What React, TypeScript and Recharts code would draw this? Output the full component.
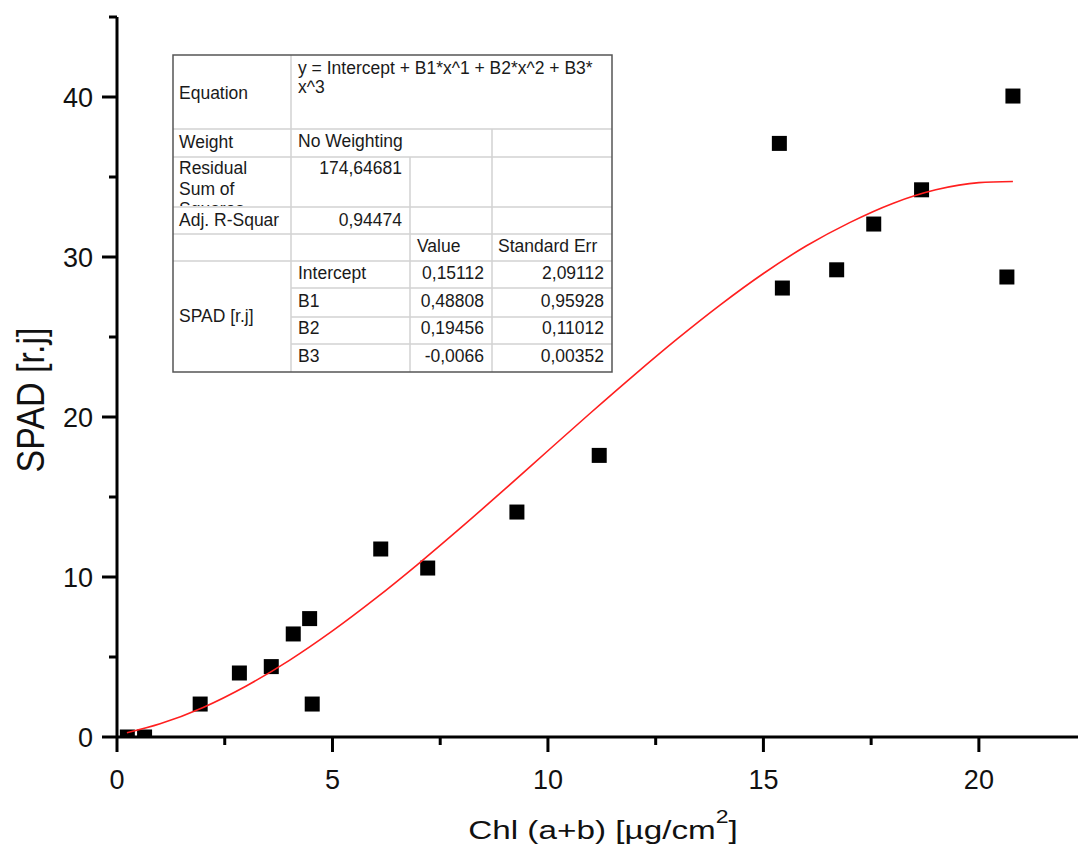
import React from "react";
import { ScatterChart, Scatter, XAxis, YAxis } from "recharts";

// measured points, Chl (a+b) vs SPAD
const chlValues = [0.24, 0.64, 1.93, 2.84, 3.58, 4.09, 4.47, 4.53, 6.12, 7.21, 9.28, 11.19, 15.37, 15.44, 16.7, 17.56, 18.67, 20.65, 20.79];
const spadValues = [0, 0, 2.06, 4.0, 4.4, 6.44, 7.4, 2.06, 11.75, 10.56, 14.06, 17.6, 37.1, 28.06, 29.2, 32.06, 34.2, 28.75, 40.06];

// red fitted curve
const fitChl = [0.23, 1, 2, 3, 4, 5, 6, 7, 8, 9, 10, 11, 12, 13, 14, 15, 16, 17, 18, 19, 20, 20.79];
const fitSpad = [0.27, 0.83, 1.85, 3.19, 4.79, 6.63, 8.66, 10.84, 13.13, 15.49, 17.89, 20.28, 22.62, 24.88, 27.01, 28.97, 30.7, 32.15, 33.35, 34.2, 34.65, 34.72];

const xTicks = [0, 2.5, 5, 7.5, 10, 12.5, 15, 17.5, 20];
const yTicks = [0, 5, 10, 15, 20, 25, 30, 35, 40, 45];

// fit report table
const leftLabels = ["Equation", "Weight", "Residual", "Sum of", "Squares", "Adj. R-Squar", "SPAD [r.j]"];
const paramNames = ["Intercept", "B1", "B2", "B3"];
const paramValues = ["0,15112", "0,48808", "0,19456", "-0,0066"];
const paramErrors = ["2,09112", "0,95928", "0,11012", "0,00352"];
const equationLines = ["y = Intercept + B1*x^1 + B2*x^2 + B3*", "x^3"];

const points = chlValues.map((x, i) => ({ x, y: spadValues[i] }));
const fitCurve = fitChl.map((x, i) => ({ x, y: fitSpad[i] }));

const font = "'Liberation Sans', Arial, sans-serif";

const XTick = (props: any) => {
  const { x, y, payload } = props;
  const major = payload.value % 5 === 0;
  return (
    <g>
      <line x1={x} x2={x} y1={y} y2={y + (major ? 15 : 8)} stroke="#000" strokeWidth={3} />
      {major && (
        <text x={x} y={y + 52} textAnchor="middle" fontSize={27} fontFamily={font} fill="#111">
          {payload.value}
        </text>
      )}
    </g>
  );
};

const YTick = (props: any) => {
  const { x, y, payload } = props;
  const major = payload.value % 10 === 0;
  return (
    <g>
      <line x1={x - (major ? 15 : 8)} x2={x} y1={y} y2={y} stroke="#000" strokeWidth={3} />
      {major && (
        <text x={x - 24} y={y + 9.5} textAnchor="end" fontSize={27} fontFamily={font} fill="#111">
          {payload.value}
        </text>
      )}
    </g>
  );
};

const FitTable = () => {
  const grid = "#d2d2d2";
  const tx = { fontSize: 17.5, fontFamily: font, fill: "#1a1a1a" };
  const rowY = [279, 307, 334, 362];
  return (
    <g>
      <rect x={173} y={55} width={439} height={317} fill="#fff" />
      {[129, 157, 207, 234, 261].map((y) => (
        <line key={y} x1={173} x2={612} y1={y} y2={y} stroke={grid} strokeWidth={1.5} />
      ))}
      {[288, 317, 344].map((y) => (
        <line key={y} x1={291} x2={612} y1={y} y2={y} stroke={grid} strokeWidth={1.5} />
      ))}
      <line x1={291} x2={291} y1={55} y2={372} stroke={grid} strokeWidth={1.5} />
      <line x1={410} x2={410} y1={157} y2={372} stroke={grid} strokeWidth={1.5} />
      <line x1={492} x2={492} y1={129} y2={372} stroke={grid} strokeWidth={1.5} />
      <rect x={173} y={55} width={439} height={317} fill="none" stroke="#555" strokeWidth={1.5} />

      <defs>
        <clipPath id="resClip">
          <rect x={173} y={157} width={118} height={49} />
        </clipPath>
      </defs>

      <text x={179} y={99} {...tx}>{leftLabels[0]}</text>
      <text x={298} y={74} {...tx}>{equationLines[0]}</text>
      <text x={298} y={93} {...tx}>{equationLines[1]}</text>
      <text x={179} y={148} {...tx}>{leftLabels[1]}</text>
      <text x={298} y={147} {...tx}>No Weighting</text>
      <g clipPath="url(#resClip)">
        <text x={179} y={174} {...tx}>{leftLabels[2]}</text>
        <text x={179} y={195} {...tx}>{leftLabels[3]}</text>
        <text x={179} y={215} {...tx}>{leftLabels[4]}</text>
      </g>
      <text x={402} y={174} textAnchor="end" {...tx}>174,64681</text>
      <text x={179} y={226} {...tx}>{leftLabels[5]}</text>
      <text x={402} y={226} textAnchor="end" {...tx}>0,94474</text>
      <text x={417} y={252} {...tx}>Value</text>
      <text x={498} y={252} {...tx}>Standard Err</text>
      <text x={179} y={322} {...tx}>{leftLabels[6]}</text>
      {paramNames.map((n, i) => (
        <g key={n}>
          <text x={298} y={rowY[i]} {...tx}>{n}</text>
          <text x={484} y={rowY[i]} textAnchor="end" {...tx}>{paramValues[i]}</text>
          <text x={604} y={rowY[i]} textAnchor="end" {...tx}>{paramErrors[i]}</text>
        </g>
      ))}
    </g>
  );
};

export default function App() {
  return (
    <div style={{ position: "absolute", left: 0, top: 0, width: 1078, height: 852, background: "#fff" }}>
      <ScatterChart width={1078} height={852} margin={{ top: 17, right: 0, bottom: 0, left: 0 }}>
        <XAxis
          type="number"
          dataKey="x"
          domain={[0, 22.3]}
          ticks={xTicks}
          interval={0}
          height={115}
          tickSize={0}
          tickMargin={0}
          tickLine={false}
          tick={<XTick />}
          axisLine={{ stroke: "#000", strokeWidth: 3 }}
          allowDataOverflow
        />
        <YAxis
          type="number"
          dataKey="y"
          domain={[0, 45]}
          ticks={yTicks}
          interval={0}
          width={117}
          tickSize={0}
          tickMargin={0}
          tickLine={false}
          tick={<YTick />}
          axisLine={{ stroke: "#000", strokeWidth: 3 }}
          allowDataOverflow
        />
        <Scatter
          data={points}
          fill="#000"
          isAnimationActive={false}
          shape={(p: any) => <rect x={p.cx - 7.5} y={p.cy - 7.5} width={15} height={15} fill="#000" />}
        />
        <Scatter
          data={fitCurve}
          line={{ stroke: "#ff1f1f", strokeWidth: 1.6 }}
          lineJointType="monotoneX"
          isAnimationActive={false}
          shape={() => <g />}
        />
      </ScatterChart>
      <svg width={1078} height={852} style={{ position: "absolute", left: 0, top: 0, pointerEvents: "none" }}>
        <FitTable />
        <text
          transform="translate(603, 839) scale(1.28, 1)"
          textAnchor="middle"
          fontSize={26}
          fontFamily={font}
          fill="#111"
        >
          <tspan>Chl (a+b) [µg/cm</tspan>
          <tspan dy={-16} fontSize={18}>2</tspan>
          <tspan dy={16}>]</tspan>
        </text>
        <text
          transform="translate(44, 400) rotate(-90) scale(1, 1.15)"
          textAnchor="middle"
          fontSize={34}
          fontFamily={font}
          fill="#111"
        >
          SPAD [r.j]
        </text>
      </svg>
    </div>
  );
}
